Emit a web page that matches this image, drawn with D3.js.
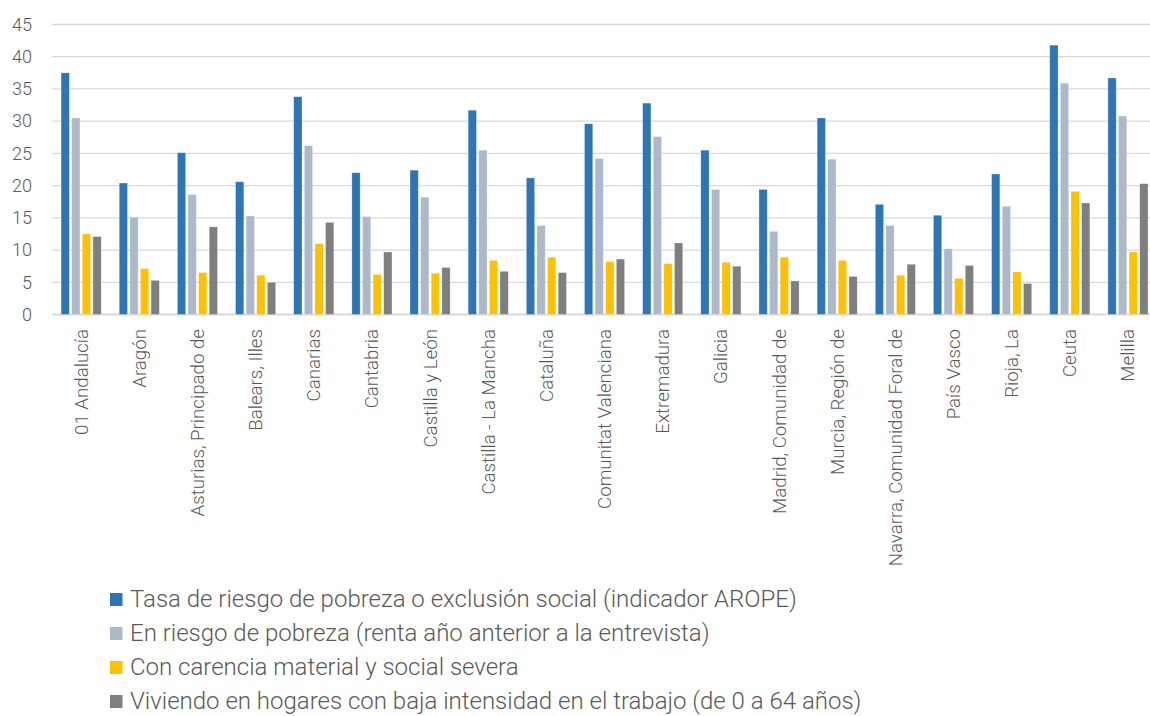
<!DOCTYPE html>
<html>
<head>
<meta charset="utf-8">
<script src="https://cdn.jsdelivr.net/npm/d3@7"></script>
<style>
  body { margin: 0; background: #fff; }
  svg text { font-family: Roboto, "Noto Sans", sans-serif; font-weight: 300; fill: #595959; }
</style>
</head>
<body>
<svg id="chart" width="1150" height="716"></svg>
<script>
// regions (x axis)
const regions = ["01 Andalucía", "Aragón", "Asturias, Principado de", "Balears, Illes", "Canarias",
  "Cantabria", "Castilla y León", "Castilla - La Mancha", "Cataluña", "Comunitat Valenciana",
  "Extremadura", "Galicia", "Madrid, Comunidad de", "Murcia, Región de", "Navarra, Comunidad Foral de",
  "País Vasco", "Rioja, La", "Ceuta", "Melilla"]

const seriesNames = [
  "Tasa de riesgo de pobreza o exclusión social (indicador AROPE)",
  "En riesgo de pobreza (renta año anterior a la entrevista)",
  "Con carencia material y social severa",
  "Viviendo en hogares con baja intensidad en el trabajo (de 0 a 64 años)"
]
const seriesColors = ["#2E75B6", "#ADB9CA", "#FFC000", "#7F7F7F"]

const arope = [37.5, 20.4, 25.1, 20.6, 33.8, 22.0, 22.4, 31.7, 21.2, 29.6, 32.8, 25.5, 19.4, 30.5, 17.1, 15.4, 21.8, 41.8, 36.7]
const riesgoPobreza = [30.5, 15.1, 18.6, 15.3, 26.2, 15.2, 18.2, 25.5, 13.8, 24.2, 27.6, 19.4, 12.9, 24.1, 13.8, 10.2, 16.8, 35.9, 30.8]
const carencia = [12.5, 7.1, 6.5, 6.1, 11.0, 6.2, 6.4, 8.4, 8.9, 8.2, 7.9, 8.1, 8.9, 8.4, 6.1, 5.6, 6.6, 19.1, 9.7]
const bajaIntensidad = [12.1, 5.3, 13.6, 5.0, 14.3, 9.7, 7.3, 6.7, 6.5, 8.6, 11.1, 7.5, 5.2, 5.9, 7.8, 7.6, 4.8, 17.3, 20.3]

const yTicks = [0, 5, 10, 15, 20, 25, 30, 35, 40, 45]

const allSeries = [arope, riesgoPobreza, carencia, bajaIntensidad]

const svg = d3.select("#chart")

let x0 = d3.scaleBand()
    .domain(regions)
    .range([52, 1157])
    .padding(0)

let x1 = d3.scaleBand()
    .domain(d3.range(4))
    .range([0, 40.1])
    .paddingInner(0.22)

let y = d3.scaleLinear()
    .domain([0, 45])
    .range([314.5, 24.5])

// gridlines
svg.append("g")
    .selectAll("line")
    .data(yTicks)
    .enter().append("line")
    .attr("x1", 52)
    .attr("x2", 1150)
    .attr("y1", d => y(d))
    .attr("y2", d => y(d))
    .attr("stroke", "#D9D9D9")
    .attr("stroke-width", d => d === 0 ? 1.8 : 1.3)

// y axis labels
svg.append("g")
    .attr("transform", "translate(32,0)")
    .call(d3.axisLeft(y).tickValues(yTicks).tickSize(0).tickPadding(0))
    .call(g => g.select(".domain").remove())
    .selectAll("text")
    .attr("font-size", 18)
    .style("font-family", "Roboto, sans-serif")

// bars
const groups = svg.append("g")
    .selectAll("g")
    .data(regions)
    .enter().append("g")
    .attr("transform", d => "translate(" + (x0(d) + x0.bandwidth() / 2 - 20) + ",0)")

groups.selectAll("rect")
    .data((d, i) => allSeries.map((s, k) => ({k: k, v: s[i]})))
    .enter().append("rect")
    .attr("x", d => x1(d.k))
    .attr("width", x1.bandwidth())
    .attr("y", d => y(d.v))
    .attr("height", d => y(0) - y(d.v))
    .attr("fill", d => seriesColors[d.k])
    .attr("stroke", "#fff")
    .attr("stroke-opacity", 0.45)
    .attr("stroke-width", 0.6)

// x labels (rotated)
svg.append("g")
    .selectAll("text")
    .data(regions)
    .enter().append("text")
    .attr("transform", d => "translate(" + (x0(d) + x0.bandwidth() / 2) + ",329) rotate(-90)")
    .attr("text-anchor", "end")
    .attr("dy", "0.35em")
    .attr("font-size", 18.7)
    .text(d => d)

// legend
const legend = svg.append("g")
    .selectAll("g")
    .data(seriesNames)
    .enter().append("g")
    .attr("transform", (d, i) => "translate(110," + (593 + i * 34) + ")")

legend.append("rect")
    .attr("width", 12.5)
    .attr("height", 13)
    .attr("fill", (d, i) => seriesColors[i])

legend.append("text")
    .attr("x", 20)
    .attr("y", 14)
    .attr("font-size", 24)
    .text(d => d)
</script>
</body>
</html>
